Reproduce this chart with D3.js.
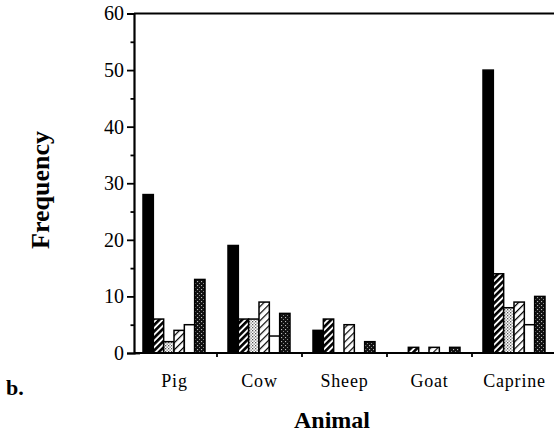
<!DOCTYPE html>
<html>
<head>
<meta charset="utf-8">
<script src="https://cdn.jsdelivr.net/npm/d3@7"></script>
<style>
  body { margin: 0; background: #fff; }
  svg { display: block; }
  text { font-family: "Liberation Serif", "Times New Roman", serif; fill: #000; }
</style>
</head>
<body>
<div id="wrapper"></div>
<script>
// Data
const categories = ["Pig", "Cow", "Sheep", "Goat", "Caprine"]
const seriesKeys = ["solid", "hatched", "stippled", "lightHatched", "open", "darkStippled"]
const solid        = [28, 19, 4, 0, 50]
const hatched      = [6, 6, 6, 1, 14]
const stippled     = [2, 6, 0, 0, 8]
const lightHatched = [4, 9, 5, 1, 9]
const open         = [5, 3, 0, 0, 5]
const darkStippled = [13, 7, 2, 1, 10]
const yTicks = [0, 5, 10, 15, 20, 25, 30, 35, 40, 45, 50, 55, 60]

const seriesValues = { solid, hatched, stippled, lightHatched, open, darkStippled }

function drawChart() {
  let dimensions = {
    width: 554,
    height: 433,
    margin: { top: 13.5, right: -3, bottom: 80, left: 134 }
  }
  dimensions.boundedHeight = dimensions.height - dimensions.margin.top - dimensions.margin.bottom

  const svg = d3.select("#wrapper").append("svg")
    .attr("width", dimensions.width)
    .attr("height", dimensions.height)

  // fill patterns
  const defs = svg.append("defs")
  const hatch = defs.append("pattern").attr("id", "hatched")
    .attr("width", 4.5).attr("height", 4.5)
    .attr("patternUnits", "userSpaceOnUse")
    .attr("patternTransform", "rotate(45)")
  hatch.append("rect").attr("width", 4.5).attr("height", 4.5).attr("fill", "#fff")
  hatch.append("rect").attr("width", 2.6).attr("height", 4.5).attr("fill", "#000")

  const light = defs.append("pattern").attr("id", "lightHatched")
    .attr("width", 5).attr("height", 5)
    .attr("patternUnits", "userSpaceOnUse")
    .attr("patternTransform", "rotate(45)")
  light.append("rect").attr("width", 5).attr("height", 5).attr("fill", "#fff")
  light.append("rect").attr("width", 1.2).attr("height", 5).attr("fill", "#000")

  const stip = defs.append("pattern").attr("id", "stippled")
    .attr("width", 3).attr("height", 3)
    .attr("patternUnits", "userSpaceOnUse")
  stip.append("rect").attr("width", 3).attr("height", 3).attr("fill", "#fff")
  stip.append("rect").attr("width", 1.3).attr("height", 1.3).attr("fill", "#555")
  stip.append("rect").attr("x", 1.5).attr("y", 1.5).attr("width", 1.3).attr("height", 1.3).attr("fill", "#777")

  const dark = defs.append("pattern").attr("id", "darkStippled")
    .attr("width", 4).attr("height", 4)
    .attr("patternUnits", "userSpaceOnUse")
  dark.append("rect").attr("width", 4).attr("height", 4).attr("fill", "#111")
  dark.append("rect").attr("x", 1).attr("y", 1).attr("width", 1.1).attr("height", 1.1).attr("fill", "#bbb")
  dark.append("rect").attr("x", 3).attr("y", 3).attr("width", 1).attr("height", 1).attr("fill", "#888")

  const fills = {
    solid: "#000",
    hatched: "url(#hatched)",
    stippled: "url(#stippled)",
    lightHatched: "url(#lightHatched)",
    open: "#fff",
    darkStippled: "url(#darkStippled)"
  }

  // scales
  const xScale = d3.scaleBand()
    .domain(categories)
    .range([132, 557])

  const xInner = d3.scaleBand()
    .domain(seriesKeys)
    .range([11, 73])

  const yScale = d3.scaleLinear()
    .domain([0, 60])
    .range([dimensions.margin.top + dimensions.boundedHeight, dimensions.margin.top])

  const bars = []
  categories.forEach((c, i) => {
    seriesKeys.forEach(k => {
      const v = seriesValues[k][i]
      if (v > 0) bars.push({ category: c, key: k, value: v })
    })
  })

  svg.append("g")
    .selectAll("rect")
    .data(bars)
    .join("rect")
    .attr("x", d => xScale(d.category) + xInner(d.key))
    .attr("y", d => yScale(d.value))
    .attr("width", xInner.bandwidth())
    .attr("height", d => yScale(0) - yScale(d.value))
    .attr("fill", d => fills[d.key])
    .attr("stroke", "#000")
    .attr("stroke-width", 1.5)

  // y axis, with minor ticks every 5
  const yAxis = svg.append("g")
    .attr("transform", `translate(${dimensions.margin.left},0)`)
    .call(d3.axisLeft(yScale)
      .tickValues(yTicks)
      .tickSize(7)
      .tickPadding(3)
      .tickFormat(d => d % 10 === 0 ? d : ""))
  yAxis.select(".domain").attr("stroke-width", 2.2)
  yAxis.selectAll(".tick line")
    .attr("stroke-width", 1.8)
    .attr("x1", d => d === 0 ? 6 : 0)
    .attr("x2", d => d % 10 === 0 ? -7 : -3.5)
  yAxis.selectAll(".tick text")
    .style("font-family", "Liberation Serif, serif")
    .attr("font-size", 20)

  // x axis
  const xAxis = svg.append("g")
    .attr("transform", `translate(0,${yScale(0)})`)
  xAxis.append("line")
    .attr("x1", dimensions.margin.left).attr("x2", dimensions.width)
    .attr("stroke", "#000").attr("stroke-width", 2.2)
  xAxis.selectAll(".xtick")
    .data(categories.slice(1))
    .join("line")
    .attr("x1", d => xScale(d)).attr("x2", d => xScale(d))
    .attr("y1", 0).attr("y2", 4)
    .attr("stroke", "#000").attr("stroke-width", 1.8)
  xAxis.selectAll(".xlabel")
    .data(categories)
    .join("text")
    .attr("x", d => xScale(d) + xScale.bandwidth() / 2)
    .attr("y", 34)
    .attr("text-anchor", "middle")
    .attr("font-size", 18)
    .attr("letter-spacing", 0.8)
    .text(d => d)

  // top frame line
  svg.append("line")
    .attr("x1", dimensions.margin.left).attr("x2", dimensions.width)
    .attr("y1", yScale(60)).attr("y2", yScale(60))
    .attr("stroke", "#000").attr("stroke-width", 2)

  // axis titles
  svg.append("text")
    .attr("x", 332)
    .attr("y", 428)
    .attr("text-anchor", "middle")
    .attr("font-size", 24)
    .attr("font-weight", "bold")
    .text("Animal")

  svg.append("text")
    .attr("transform", "translate(49,190) rotate(-90)")
    .attr("text-anchor", "middle")
    .attr("font-size", 26)
    .attr("font-weight", "bold")
    .text("Frequency")

  svg.append("text")
    .attr("x", 6)
    .attr("y", 395)
    .attr("font-size", 22)
    .attr("font-weight", "bold")
    .text("b.")
}
drawChart()
</script>
</body>
</html>
